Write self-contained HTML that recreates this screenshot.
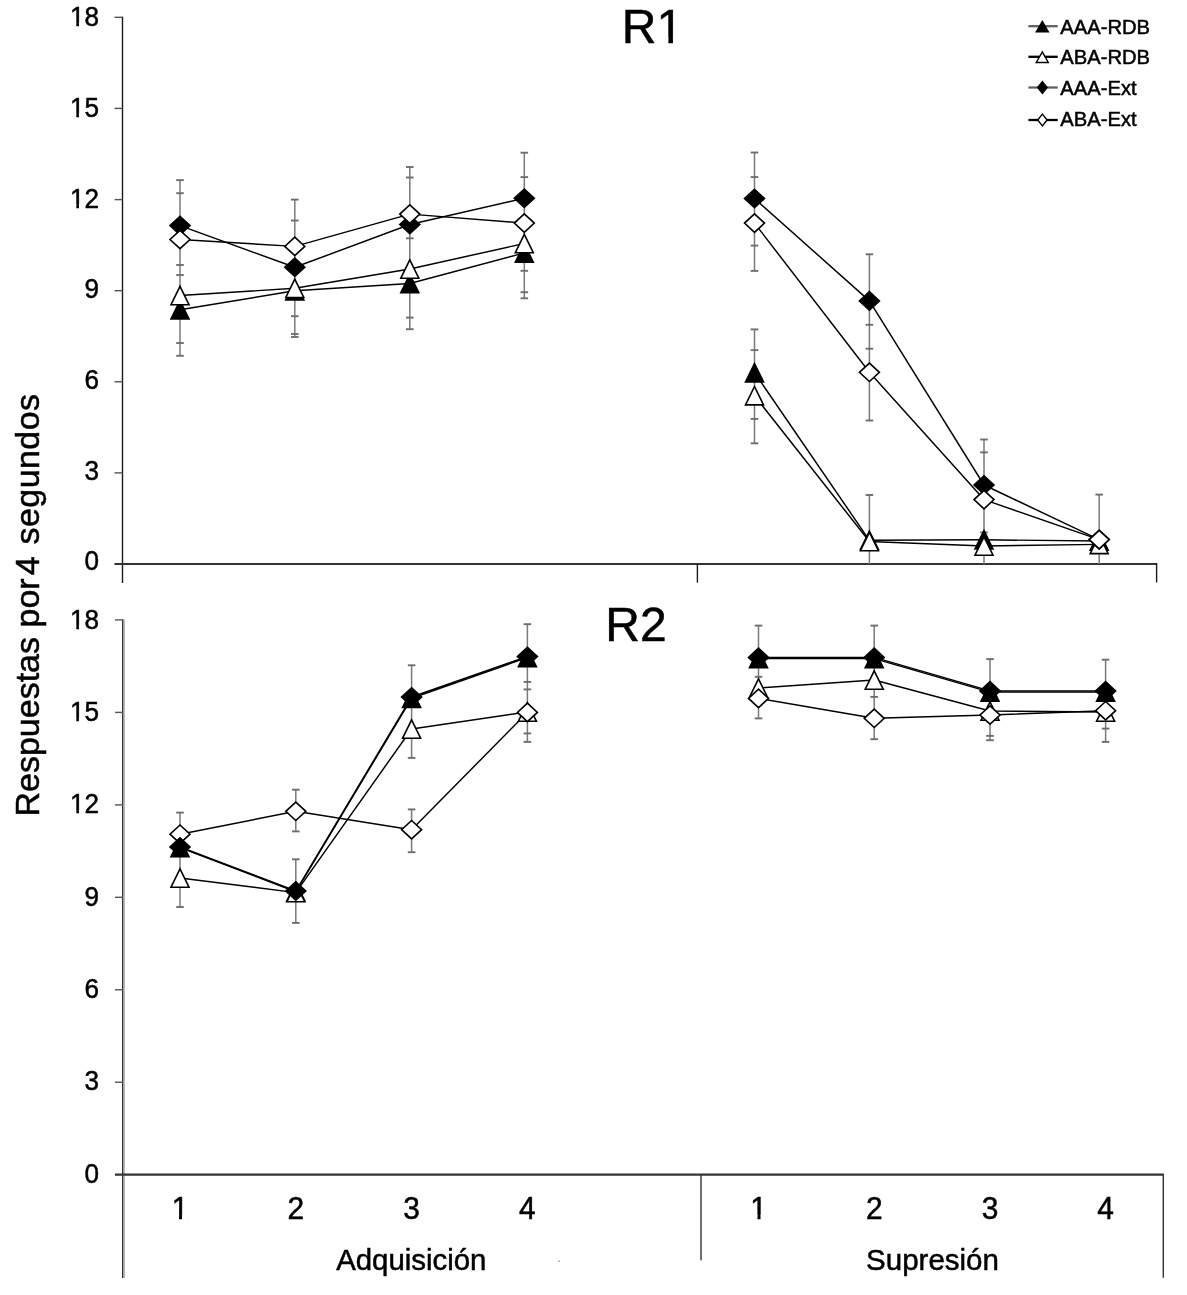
<!DOCTYPE html><html><head><meta charset="utf-8"><title>R1 R2</title><style>html,body{margin:0;padding:0;background:#fff;}svg{display:block;}</style></head><body>
<svg width="1187" height="1295" viewBox="0 0 1187 1295">
<rect width="1187" height="1295" fill="#fff"/>
<line x1="122.5" y1="16.7" x2="122.5" y2="583.0" stroke="#1a1a1a" stroke-width="1.4"/>
<text x="99" y="570.4" text-anchor="end" font-size="27.5" font-family="'Liberation Sans', Arial, sans-serif" stroke="#000" stroke-width="0.5" fill="#000" transform="translate(99 0) scale(0.95 1) translate(-99 0)" >0</text>
<line x1="114.5" y1="472.9" x2="122.5" y2="472.9" stroke="#555" stroke-width="1.4"/>
<text x="99" y="479.7" text-anchor="end" font-size="27.5" font-family="'Liberation Sans', Arial, sans-serif" stroke="#000" stroke-width="0.5" fill="#000" transform="translate(99 0) scale(0.95 1) translate(-99 0)" >3</text>
<line x1="114.5" y1="381.8" x2="122.5" y2="381.8" stroke="#555" stroke-width="1.4"/>
<text x="99" y="389.0" text-anchor="end" font-size="27.5" font-family="'Liberation Sans', Arial, sans-serif" stroke="#000" stroke-width="0.5" fill="#000" transform="translate(99 0) scale(0.95 1) translate(-99 0)" >6</text>
<line x1="114.5" y1="290.7" x2="122.5" y2="290.7" stroke="#555" stroke-width="1.4"/>
<text x="99" y="298.3" text-anchor="end" font-size="27.5" font-family="'Liberation Sans', Arial, sans-serif" stroke="#000" stroke-width="0.5" fill="#000" transform="translate(99 0) scale(0.95 1) translate(-99 0)" >9</text>
<line x1="114.5" y1="199.6" x2="122.5" y2="199.6" stroke="#555" stroke-width="1.4"/>
<text x="99" y="207.7" text-anchor="end" font-size="27.5" font-family="'Liberation Sans', Arial, sans-serif" stroke="#000" stroke-width="0.5" fill="#000" transform="translate(99 0) scale(0.95 1) translate(-99 0)" clip-path="url(#c0)">12</text>
<line x1="114.5" y1="108.4" x2="122.5" y2="108.4" stroke="#555" stroke-width="1.4"/>
<text x="99" y="117.0" text-anchor="end" font-size="27.5" font-family="'Liberation Sans', Arial, sans-serif" stroke="#000" stroke-width="0.5" fill="#000" transform="translate(99 0) scale(0.95 1) translate(-99 0)" clip-path="url(#c1)">15</text>
<line x1="114.5" y1="17.3" x2="122.5" y2="17.3" stroke="#555" stroke-width="1.4"/>
<text x="99" y="26.3" text-anchor="end" font-size="27.5" font-family="'Liberation Sans', Arial, sans-serif" stroke="#000" stroke-width="0.5" fill="#000" transform="translate(99 0) scale(0.95 1) translate(-99 0)" clip-path="url(#c2)">18</text>
<line x1="114.5" y1="564.0" x2="1156.6" y2="564.0" stroke="#333" stroke-width="2.2"/>
<line x1="697.4" y1="564.0" x2="697.4" y2="582.6" stroke="#1a1a1a" stroke-width="1.4"/>
<line x1="1156.6" y1="563.0" x2="1156.6" y2="582.5" stroke="#1a1a1a" stroke-width="1.4"/>
<text x="652.5" y="42.5" text-anchor="middle" font-size="48" font-family="'Liberation Sans', Arial, sans-serif" stroke="#000" stroke-width="0.5" fill="#000" clip-path="url(#c3)">R1</text>
<line x1="180.0" y1="180.1" x2="180.0" y2="355.8" stroke="#7a7a7a" stroke-width="1.5"/>
<line x1="176.2" y1="180.1" x2="183.8" y2="180.1" stroke="#6e6e6e" stroke-width="1.9"/>
<line x1="176.2" y1="193.2" x2="183.8" y2="193.2" stroke="#6e6e6e" stroke-width="1.9"/>
<line x1="176.2" y1="265.0" x2="183.8" y2="265.0" stroke="#6e6e6e" stroke-width="1.9"/>
<line x1="176.2" y1="275.0" x2="183.8" y2="275.0" stroke="#6e6e6e" stroke-width="1.9"/>
<line x1="176.2" y1="343.0" x2="183.8" y2="343.0" stroke="#6e6e6e" stroke-width="1.9"/>
<line x1="176.2" y1="355.8" x2="183.8" y2="355.8" stroke="#6e6e6e" stroke-width="1.9"/>
<line x1="294.8" y1="199.6" x2="294.8" y2="337.0" stroke="#7a7a7a" stroke-width="1.5"/>
<line x1="291.0" y1="199.6" x2="298.6" y2="199.6" stroke="#6e6e6e" stroke-width="1.9"/>
<line x1="291.0" y1="220.5" x2="298.6" y2="220.5" stroke="#6e6e6e" stroke-width="1.9"/>
<line x1="291.0" y1="316.2" x2="298.6" y2="316.2" stroke="#6e6e6e" stroke-width="1.9"/>
<line x1="291.0" y1="334.0" x2="298.6" y2="334.0" stroke="#6e6e6e" stroke-width="1.9"/>
<line x1="291.0" y1="337.0" x2="298.6" y2="337.0" stroke="#6e6e6e" stroke-width="1.9"/>
<line x1="409.8" y1="167.0" x2="409.8" y2="329.2" stroke="#7a7a7a" stroke-width="1.5"/>
<line x1="406.0" y1="167.0" x2="413.6" y2="167.0" stroke="#6e6e6e" stroke-width="1.9"/>
<line x1="406.0" y1="177.5" x2="413.6" y2="177.5" stroke="#6e6e6e" stroke-width="1.9"/>
<line x1="406.0" y1="238.3" x2="413.6" y2="238.3" stroke="#6e6e6e" stroke-width="1.9"/>
<line x1="406.0" y1="317.6" x2="413.6" y2="317.6" stroke="#6e6e6e" stroke-width="1.9"/>
<line x1="406.0" y1="329.2" x2="413.6" y2="329.2" stroke="#6e6e6e" stroke-width="1.9"/>
<line x1="524.3" y1="152.7" x2="524.3" y2="298.3" stroke="#7a7a7a" stroke-width="1.5"/>
<line x1="520.5" y1="152.7" x2="528.0999999999999" y2="152.7" stroke="#6e6e6e" stroke-width="1.9"/>
<line x1="520.5" y1="177.1" x2="528.0999999999999" y2="177.1" stroke="#6e6e6e" stroke-width="1.9"/>
<line x1="520.5" y1="270.8" x2="528.0999999999999" y2="270.8" stroke="#6e6e6e" stroke-width="1.9"/>
<line x1="520.5" y1="292.2" x2="528.0999999999999" y2="292.2" stroke="#6e6e6e" stroke-width="1.9"/>
<line x1="520.5" y1="298.3" x2="528.0999999999999" y2="298.3" stroke="#6e6e6e" stroke-width="1.9"/>
<line x1="754.5" y1="152.5" x2="754.5" y2="270.9" stroke="#7a7a7a" stroke-width="1.5"/>
<line x1="754.5" y1="329.4" x2="754.5" y2="443.3" stroke="#7a7a7a" stroke-width="1.5"/>
<line x1="750.7" y1="152.5" x2="758.3" y2="152.5" stroke="#6e6e6e" stroke-width="1.9"/>
<line x1="750.7" y1="177.1" x2="758.3" y2="177.1" stroke="#6e6e6e" stroke-width="1.9"/>
<line x1="750.7" y1="245.6" x2="758.3" y2="245.6" stroke="#6e6e6e" stroke-width="1.9"/>
<line x1="750.7" y1="270.9" x2="758.3" y2="270.9" stroke="#6e6e6e" stroke-width="1.9"/>
<line x1="750.7" y1="329.4" x2="758.3" y2="329.4" stroke="#6e6e6e" stroke-width="1.9"/>
<line x1="750.7" y1="350.1" x2="758.3" y2="350.1" stroke="#6e6e6e" stroke-width="1.9"/>
<line x1="750.7" y1="418.9" x2="758.3" y2="418.9" stroke="#6e6e6e" stroke-width="1.9"/>
<line x1="750.7" y1="443.3" x2="758.3" y2="443.3" stroke="#6e6e6e" stroke-width="1.9"/>
<line x1="869.4" y1="254.3" x2="869.4" y2="420.5" stroke="#7a7a7a" stroke-width="1.5"/>
<line x1="869.4" y1="495.0" x2="869.4" y2="564.0" stroke="#7a7a7a" stroke-width="1.5"/>
<line x1="865.6" y1="254.3" x2="873.1999999999999" y2="254.3" stroke="#6e6e6e" stroke-width="1.9"/>
<line x1="865.6" y1="324.8" x2="873.1999999999999" y2="324.8" stroke="#6e6e6e" stroke-width="1.9"/>
<line x1="865.6" y1="348.7" x2="873.1999999999999" y2="348.7" stroke="#6e6e6e" stroke-width="1.9"/>
<line x1="865.6" y1="420.5" x2="873.1999999999999" y2="420.5" stroke="#6e6e6e" stroke-width="1.9"/>
<line x1="865.6" y1="495.0" x2="873.1999999999999" y2="495.0" stroke="#6e6e6e" stroke-width="1.9"/>
<line x1="984.0" y1="439.5" x2="984.0" y2="564.0" stroke="#7a7a7a" stroke-width="1.5"/>
<line x1="980.2" y1="439.5" x2="987.8" y2="439.5" stroke="#6e6e6e" stroke-width="1.9"/>
<line x1="980.2" y1="452.4" x2="987.8" y2="452.4" stroke="#6e6e6e" stroke-width="1.9"/>
<line x1="980.2" y1="532.4" x2="987.8" y2="532.4" stroke="#6e6e6e" stroke-width="1.9"/>
<line x1="1099.2" y1="494.6" x2="1099.2" y2="564.0" stroke="#7a7a7a" stroke-width="1.5"/>
<line x1="1095.4" y1="494.6" x2="1103.0" y2="494.6" stroke="#6e6e6e" stroke-width="1.9"/>
<polyline points="180.0,309.8 294.8,290.8 409.8,283.5 524.3,253.0" fill="none" stroke="#000" stroke-width="1.45" stroke-linejoin="round"/>
<polyline points="754.5,372.7 869.4,540.3 984.0,539.8 1099.2,541.0" fill="none" stroke="#000" stroke-width="1.45" stroke-linejoin="round"/>
<polyline points="180.0,295.5 294.8,288.3 409.8,269.0 524.3,243.5" fill="none" stroke="#000" stroke-width="1.45" stroke-linejoin="round"/>
<polyline points="754.5,395.7 869.4,541.5 984.0,546.0 1099.2,544.4" fill="none" stroke="#000" stroke-width="1.45" stroke-linejoin="round"/>
<polyline points="180.0,225.6 294.8,267.3 409.8,224.5 524.3,198.3" fill="none" stroke="#000" stroke-width="1.45" stroke-linejoin="round"/>
<polyline points="754.5,198.5 869.4,300.9 984.0,485.0 1099.2,539.6" fill="none" stroke="#000" stroke-width="1.45" stroke-linejoin="round"/>
<polyline points="180.0,239.5 294.8,246.4 409.8,214.1 524.3,223.1" fill="none" stroke="#000" stroke-width="1.45" stroke-linejoin="round"/>
<polyline points="754.5,223.1 869.4,372.3 984.0,499.6 1099.2,539.6" fill="none" stroke="#000" stroke-width="1.45" stroke-linejoin="round"/>
<polygon points="180.0,300.6 189.0,319.0 171.0,319.0" fill="#000" stroke="#000" stroke-width="1.6" stroke-linejoin="miter"/>
<polygon points="180.0,286.3 189.0,304.7 171.0,304.7" fill="#fff" stroke="#000" stroke-width="1.6" stroke-linejoin="miter"/>
<polygon points="180.0,216.4 190.0,225.6 180.0,234.8 170.0,225.6" fill="#000" stroke="#000" stroke-width="1.6"/>
<polygon points="180.0,230.3 190.0,239.5 180.0,248.7 170.0,239.5" fill="#fff" stroke="#000" stroke-width="1.6"/>
<polygon points="294.8,281.6 303.8,300.0 285.8,300.0" fill="#000" stroke="#000" stroke-width="1.6" stroke-linejoin="miter"/>
<polygon points="294.8,279.1 303.8,297.5 285.8,297.5" fill="#fff" stroke="#000" stroke-width="1.6" stroke-linejoin="miter"/>
<polygon points="294.8,258.1 304.8,267.3 294.8,276.5 284.8,267.3" fill="#000" stroke="#000" stroke-width="1.6"/>
<polygon points="294.8,237.2 304.8,246.4 294.8,255.6 284.8,246.4" fill="#fff" stroke="#000" stroke-width="1.6"/>
<polygon points="409.8,274.3 418.8,292.7 400.8,292.7" fill="#000" stroke="#000" stroke-width="1.6" stroke-linejoin="miter"/>
<polygon points="409.8,259.8 418.8,278.2 400.8,278.2" fill="#fff" stroke="#000" stroke-width="1.6" stroke-linejoin="miter"/>
<polygon points="409.8,215.3 419.8,224.5 409.8,233.7 399.8,224.5" fill="#000" stroke="#000" stroke-width="1.6"/>
<polygon points="409.8,204.9 419.8,214.1 409.8,223.3 399.8,214.1" fill="#fff" stroke="#000" stroke-width="1.6"/>
<polygon points="524.3,243.8 533.3,262.2 515.3,262.2" fill="#000" stroke="#000" stroke-width="1.6" stroke-linejoin="miter"/>
<polygon points="524.3,234.3 533.3,252.7 515.3,252.7" fill="#fff" stroke="#000" stroke-width="1.6" stroke-linejoin="miter"/>
<polygon points="524.3,189.1 534.3,198.3 524.3,207.5 514.3,198.3" fill="#000" stroke="#000" stroke-width="1.6"/>
<polygon points="524.3,213.9 534.3,223.1 524.3,232.3 514.3,223.1" fill="#fff" stroke="#000" stroke-width="1.6"/>
<polygon points="754.5,363.5 763.5,381.9 745.5,381.9" fill="#000" stroke="#000" stroke-width="1.6" stroke-linejoin="miter"/>
<polygon points="754.5,386.5 763.5,404.9 745.5,404.9" fill="#fff" stroke="#000" stroke-width="1.6" stroke-linejoin="miter"/>
<polygon points="754.5,189.3 764.5,198.5 754.5,207.7 744.5,198.5" fill="#000" stroke="#000" stroke-width="1.6"/>
<polygon points="754.5,213.9 764.5,223.1 754.5,232.3 744.5,223.1" fill="#fff" stroke="#000" stroke-width="1.6"/>
<polygon points="869.4,531.1 878.4,549.5 860.4,549.5" fill="#000" stroke="#000" stroke-width="1.6" stroke-linejoin="miter"/>
<polygon points="869.4,532.3 878.4,550.7 860.4,550.7" fill="#fff" stroke="#000" stroke-width="1.6" stroke-linejoin="miter"/>
<polygon points="869.4,291.7 879.4,300.9 869.4,310.1 859.4,300.9" fill="#000" stroke="#000" stroke-width="1.6"/>
<polygon points="869.4,363.1 879.4,372.3 869.4,381.5 859.4,372.3" fill="#fff" stroke="#000" stroke-width="1.6"/>
<polygon points="984.0,530.6 993.0,549.0 975.0,549.0" fill="#000" stroke="#000" stroke-width="1.6" stroke-linejoin="miter"/>
<polygon points="984.0,536.8 993.0,555.2 975.0,555.2" fill="#fff" stroke="#000" stroke-width="1.6" stroke-linejoin="miter"/>
<polygon points="984.0,475.8 994.0,485.0 984.0,494.2 974.0,485.0" fill="#000" stroke="#000" stroke-width="1.6"/>
<polygon points="984.0,490.4 994.0,499.6 984.0,508.8 974.0,499.6" fill="#fff" stroke="#000" stroke-width="1.6"/>
<polygon points="1099.2,531.8 1108.2,550.2 1090.2,550.2" fill="#000" stroke="#000" stroke-width="1.6" stroke-linejoin="miter"/>
<polygon points="1099.2,535.2 1108.2,553.6 1090.2,553.6" fill="#fff" stroke="#000" stroke-width="1.6" stroke-linejoin="miter"/>
<polygon points="1099.2,530.4 1109.2,539.6 1099.2,548.8 1089.2,539.6" fill="#000" stroke="#000" stroke-width="1.6"/>
<polygon points="1099.2,530.4 1109.2,539.6 1099.2,548.8 1089.2,539.6" fill="#fff" stroke="#000" stroke-width="1.6"/>
<line x1="124.3" y1="619.3" x2="124.3" y2="1278.0" stroke="#bbb" stroke-width="1.4"/>
<line x1="122.7" y1="619.3" x2="122.7" y2="1278.0" stroke="#2a2a2a" stroke-width="1.3"/>
<text x="99" y="1182.6" text-anchor="end" font-size="27.5" font-family="'Liberation Sans', Arial, sans-serif" stroke="#000" stroke-width="0.5" fill="#000" transform="translate(99 0) scale(0.95 1) translate(-99 0)" >0</text>
<line x1="115.0" y1="1082.2" x2="123.0" y2="1082.2" stroke="#555" stroke-width="1.4"/>
<text x="99" y="1090.3" text-anchor="end" font-size="27.5" font-family="'Liberation Sans', Arial, sans-serif" stroke="#000" stroke-width="0.5" fill="#000" transform="translate(99 0) scale(0.95 1) translate(-99 0)" >3</text>
<line x1="115.0" y1="989.8" x2="123.0" y2="989.8" stroke="#555" stroke-width="1.4"/>
<text x="99" y="998.1" text-anchor="end" font-size="27.5" font-family="'Liberation Sans', Arial, sans-serif" stroke="#000" stroke-width="0.5" fill="#000" transform="translate(99 0) scale(0.95 1) translate(-99 0)" >6</text>
<line x1="115.0" y1="897.3" x2="123.0" y2="897.3" stroke="#555" stroke-width="1.4"/>
<text x="99" y="905.8" text-anchor="end" font-size="27.5" font-family="'Liberation Sans', Arial, sans-serif" stroke="#000" stroke-width="0.5" fill="#000" transform="translate(99 0) scale(0.95 1) translate(-99 0)" >9</text>
<line x1="115.0" y1="804.9" x2="123.0" y2="804.9" stroke="#555" stroke-width="1.4"/>
<text x="99" y="813.5" text-anchor="end" font-size="27.5" font-family="'Liberation Sans', Arial, sans-serif" stroke="#000" stroke-width="0.5" fill="#000" transform="translate(99 0) scale(0.95 1) translate(-99 0)" clip-path="url(#c4)">12</text>
<line x1="115.0" y1="712.4" x2="123.0" y2="712.4" stroke="#555" stroke-width="1.4"/>
<text x="99" y="721.3" text-anchor="end" font-size="27.5" font-family="'Liberation Sans', Arial, sans-serif" stroke="#000" stroke-width="0.5" fill="#000" transform="translate(99 0) scale(0.95 1) translate(-99 0)" clip-path="url(#c5)">15</text>
<line x1="115.0" y1="619.9" x2="123.0" y2="619.9" stroke="#555" stroke-width="1.4"/>
<text x="99" y="629.0" text-anchor="end" font-size="27.5" font-family="'Liberation Sans', Arial, sans-serif" stroke="#000" stroke-width="0.5" fill="#000" transform="translate(99 0) scale(0.95 1) translate(-99 0)" clip-path="url(#c6)">18</text>
<line x1="115.0" y1="1174.7" x2="1163.3" y2="1174.7" stroke="#333" stroke-width="2.2"/>
<line x1="701.0" y1="1174.7" x2="701.0" y2="1260.2" stroke="#333" stroke-width="1.4"/>
<line x1="1163.3" y1="1173.7" x2="1163.3" y2="1277.7" stroke="#333" stroke-width="1.4"/>
<text x="636.0" y="641.0" text-anchor="middle" font-size="48" font-family="'Liberation Sans', Arial, sans-serif" stroke="#000" stroke-width="0.5" fill="#000" >R2</text>
<line x1="180.0" y1="812.6" x2="180.0" y2="907.0" stroke="#7a7a7a" stroke-width="1.5"/>
<line x1="176.2" y1="812.6" x2="183.8" y2="812.6" stroke="#6e6e6e" stroke-width="1.9"/>
<line x1="176.2" y1="907.0" x2="183.8" y2="907.0" stroke="#6e6e6e" stroke-width="1.9"/>
<line x1="295.8" y1="789.7" x2="295.8" y2="831.4" stroke="#7a7a7a" stroke-width="1.5"/>
<line x1="295.8" y1="859.3" x2="295.8" y2="922.9" stroke="#7a7a7a" stroke-width="1.5"/>
<line x1="292.0" y1="789.7" x2="299.6" y2="789.7" stroke="#6e6e6e" stroke-width="1.9"/>
<line x1="292.0" y1="831.4" x2="299.6" y2="831.4" stroke="#6e6e6e" stroke-width="1.9"/>
<line x1="292.0" y1="859.3" x2="299.6" y2="859.3" stroke="#6e6e6e" stroke-width="1.9"/>
<line x1="292.0" y1="922.9" x2="299.6" y2="922.9" stroke="#6e6e6e" stroke-width="1.9"/>
<line x1="411.6" y1="665.3" x2="411.6" y2="757.9" stroke="#7a7a7a" stroke-width="1.5"/>
<line x1="411.6" y1="809.4" x2="411.6" y2="852.2" stroke="#7a7a7a" stroke-width="1.5"/>
<line x1="407.8" y1="665.3" x2="415.40000000000003" y2="665.3" stroke="#6e6e6e" stroke-width="1.9"/>
<line x1="407.8" y1="757.9" x2="415.40000000000003" y2="757.9" stroke="#6e6e6e" stroke-width="1.9"/>
<line x1="407.8" y1="809.4" x2="415.40000000000003" y2="809.4" stroke="#6e6e6e" stroke-width="1.9"/>
<line x1="407.8" y1="852.2" x2="415.40000000000003" y2="852.2" stroke="#6e6e6e" stroke-width="1.9"/>
<line x1="527.4" y1="624.2" x2="527.4" y2="741.9" stroke="#7a7a7a" stroke-width="1.5"/>
<line x1="523.6" y1="624.2" x2="531.1999999999999" y2="624.2" stroke="#6e6e6e" stroke-width="1.9"/>
<line x1="523.6" y1="681.9" x2="531.1999999999999" y2="681.9" stroke="#6e6e6e" stroke-width="1.9"/>
<line x1="523.6" y1="689.4" x2="531.1999999999999" y2="689.4" stroke="#6e6e6e" stroke-width="1.9"/>
<line x1="523.6" y1="733.4" x2="531.1999999999999" y2="733.4" stroke="#6e6e6e" stroke-width="1.9"/>
<line x1="523.6" y1="741.9" x2="531.1999999999999" y2="741.9" stroke="#6e6e6e" stroke-width="1.9"/>
<line x1="758.5" y1="625.6" x2="758.5" y2="718.4" stroke="#7a7a7a" stroke-width="1.5"/>
<line x1="754.7" y1="625.6" x2="762.3" y2="625.6" stroke="#6e6e6e" stroke-width="1.9"/>
<line x1="754.7" y1="676.8" x2="762.3" y2="676.8" stroke="#6e6e6e" stroke-width="1.9"/>
<line x1="754.7" y1="718.4" x2="762.3" y2="718.4" stroke="#6e6e6e" stroke-width="1.9"/>
<line x1="874.2" y1="625.6" x2="874.2" y2="739.2" stroke="#7a7a7a" stroke-width="1.5"/>
<line x1="870.4000000000001" y1="625.6" x2="878.0" y2="625.6" stroke="#6e6e6e" stroke-width="1.9"/>
<line x1="870.4000000000001" y1="696.9" x2="878.0" y2="696.9" stroke="#6e6e6e" stroke-width="1.9"/>
<line x1="870.4000000000001" y1="739.2" x2="878.0" y2="739.2" stroke="#6e6e6e" stroke-width="1.9"/>
<line x1="990.0" y1="659.1" x2="990.0" y2="740.2" stroke="#7a7a7a" stroke-width="1.5"/>
<line x1="986.2" y1="659.1" x2="993.8" y2="659.1" stroke="#6e6e6e" stroke-width="1.9"/>
<line x1="986.2" y1="735.9" x2="993.8" y2="735.9" stroke="#6e6e6e" stroke-width="1.9"/>
<line x1="986.2" y1="740.2" x2="993.8" y2="740.2" stroke="#6e6e6e" stroke-width="1.9"/>
<line x1="1105.6" y1="659.7" x2="1105.6" y2="741.9" stroke="#7a7a7a" stroke-width="1.5"/>
<line x1="1101.8" y1="659.7" x2="1109.3999999999999" y2="659.7" stroke="#6e6e6e" stroke-width="1.9"/>
<line x1="1101.8" y1="728.6" x2="1109.3999999999999" y2="728.6" stroke="#6e6e6e" stroke-width="1.9"/>
<line x1="1101.8" y1="741.9" x2="1109.3999999999999" y2="741.9" stroke="#6e6e6e" stroke-width="1.9"/>
<polyline points="180.0,847.5 295.8,891.8 411.6,698.3 527.4,657.5" fill="none" stroke="#000" stroke-width="1.45" stroke-linejoin="round"/>
<polyline points="758.5,658.6 874.2,658.6 990.0,692.1 1105.6,692.1" fill="none" stroke="#000" stroke-width="1.45" stroke-linejoin="round"/>
<polyline points="180.0,878.0 295.8,892.6 411.6,729.0 527.4,712.0" fill="none" stroke="#000" stroke-width="1.45" stroke-linejoin="round"/>
<polyline points="758.5,688.0 874.2,680.0 990.0,711.0 1105.6,712.0" fill="none" stroke="#000" stroke-width="1.45" stroke-linejoin="round"/>
<polyline points="180.0,847.0 295.8,891.0 411.6,697.0 527.4,656.5" fill="none" stroke="#000" stroke-width="1.45" stroke-linejoin="round"/>
<polyline points="758.5,657.4 874.2,657.4 990.0,690.9 1105.6,690.9" fill="none" stroke="#000" stroke-width="1.45" stroke-linejoin="round"/>
<polyline points="180.0,834.2 295.8,811.3 411.6,829.7 527.4,712.4" fill="none" stroke="#000" stroke-width="1.45" stroke-linejoin="round"/>
<polyline points="758.5,698.4 874.2,718.3 990.0,715.0 1105.6,710.7" fill="none" stroke="#000" stroke-width="1.45" stroke-linejoin="round"/>
<polygon points="180.0,838.3 189.0,856.7 171.0,856.7" fill="#000" stroke="#000" stroke-width="1.6" stroke-linejoin="miter"/>
<polygon points="180.0,868.8 189.0,887.2 171.0,887.2" fill="#fff" stroke="#000" stroke-width="1.6" stroke-linejoin="miter"/>
<polygon points="180.0,825.0 190.0,834.2 180.0,843.4 170.0,834.2" fill="#fff" stroke="#000" stroke-width="1.6"/>
<polygon points="180.0,837.8 190.0,847.0 180.0,856.2 170.0,847.0" fill="#000" stroke="#000" stroke-width="1.6"/>
<polygon points="295.8,882.6 304.8,901.0 286.8,901.0" fill="#000" stroke="#000" stroke-width="1.6" stroke-linejoin="miter"/>
<polygon points="295.8,883.4 304.8,901.8 286.8,901.8" fill="#fff" stroke="#000" stroke-width="1.6" stroke-linejoin="miter"/>
<polygon points="295.8,802.1 305.8,811.3 295.8,820.5 285.8,811.3" fill="#fff" stroke="#000" stroke-width="1.6"/>
<polygon points="295.8,881.8 305.8,891.0 295.8,900.2 285.8,891.0" fill="#000" stroke="#000" stroke-width="1.6"/>
<polygon points="411.6,689.1 420.6,707.5 402.6,707.5" fill="#000" stroke="#000" stroke-width="1.6" stroke-linejoin="miter"/>
<polygon points="411.6,719.8 420.6,738.2 402.6,738.2" fill="#fff" stroke="#000" stroke-width="1.6" stroke-linejoin="miter"/>
<polygon points="411.6,820.5 421.6,829.7 411.6,838.9 401.6,829.7" fill="#fff" stroke="#000" stroke-width="1.6"/>
<polygon points="411.6,687.8 421.6,697.0 411.6,706.2 401.6,697.0" fill="#000" stroke="#000" stroke-width="1.6"/>
<polygon points="527.4,648.3 536.4,666.7 518.4,666.7" fill="#000" stroke="#000" stroke-width="1.6" stroke-linejoin="miter"/>
<polygon points="527.4,702.8 536.4,721.2 518.4,721.2" fill="#fff" stroke="#000" stroke-width="1.6" stroke-linejoin="miter"/>
<polygon points="527.4,703.2 537.4,712.4 527.4,721.6 517.4,712.4" fill="#fff" stroke="#000" stroke-width="1.6"/>
<polygon points="527.4,647.3 537.4,656.5 527.4,665.7 517.4,656.5" fill="#000" stroke="#000" stroke-width="1.6"/>
<polygon points="758.5,649.4 767.5,667.8 749.5,667.8" fill="#000" stroke="#000" stroke-width="1.6" stroke-linejoin="miter"/>
<polygon points="758.5,678.8 767.5,697.2 749.5,697.2" fill="#fff" stroke="#000" stroke-width="1.6" stroke-linejoin="miter"/>
<polygon points="758.5,689.2 768.5,698.4 758.5,707.6 748.5,698.4" fill="#fff" stroke="#000" stroke-width="1.6"/>
<polygon points="758.5,648.2 768.5,657.4 758.5,666.6 748.5,657.4" fill="#000" stroke="#000" stroke-width="1.6"/>
<polygon points="874.2,649.4 883.2,667.8 865.2,667.8" fill="#000" stroke="#000" stroke-width="1.6" stroke-linejoin="miter"/>
<polygon points="874.2,670.8 883.2,689.2 865.2,689.2" fill="#fff" stroke="#000" stroke-width="1.6" stroke-linejoin="miter"/>
<polygon points="874.2,709.1 884.2,718.3 874.2,727.5 864.2,718.3" fill="#fff" stroke="#000" stroke-width="1.6"/>
<polygon points="874.2,648.2 884.2,657.4 874.2,666.6 864.2,657.4" fill="#000" stroke="#000" stroke-width="1.6"/>
<polygon points="990.0,682.9 999.0,701.3 981.0,701.3" fill="#000" stroke="#000" stroke-width="1.6" stroke-linejoin="miter"/>
<polygon points="990.0,701.8 999.0,720.2 981.0,720.2" fill="#fff" stroke="#000" stroke-width="1.6" stroke-linejoin="miter"/>
<polygon points="990.0,705.8 1000.0,715.0 990.0,724.2 980.0,715.0" fill="#fff" stroke="#000" stroke-width="1.6"/>
<polygon points="990.0,681.7 1000.0,690.9 990.0,700.1 980.0,690.9" fill="#000" stroke="#000" stroke-width="1.6"/>
<polygon points="1105.6,682.9 1114.6,701.3 1096.6,701.3" fill="#000" stroke="#000" stroke-width="1.6" stroke-linejoin="miter"/>
<polygon points="1105.6,702.8 1114.6,721.2 1096.6,721.2" fill="#fff" stroke="#000" stroke-width="1.6" stroke-linejoin="miter"/>
<polygon points="1105.6,701.5 1115.6,710.7 1105.6,719.9 1095.6,710.7" fill="#fff" stroke="#000" stroke-width="1.6"/>
<polygon points="1105.6,681.7 1115.6,690.9 1105.6,700.1 1095.6,690.9" fill="#000" stroke="#000" stroke-width="1.6"/>
<text x="0" y="0" text-anchor="middle" font-size="31.5" font-family="'Liberation Sans', Arial, sans-serif" stroke="#000" stroke-width="0.5" fill="#000" transform="translate(180.0 1218.6) scale(0.95 1)" clip-path="url(#c7)">1</text>
<text x="0" y="0" text-anchor="middle" font-size="31.5" font-family="'Liberation Sans', Arial, sans-serif" stroke="#000" stroke-width="0.5" fill="#000" transform="translate(295.8 1218.6) scale(0.95 1)" >2</text>
<text x="0" y="0" text-anchor="middle" font-size="31.5" font-family="'Liberation Sans', Arial, sans-serif" stroke="#000" stroke-width="0.5" fill="#000" transform="translate(411.6 1218.6) scale(0.95 1)" >3</text>
<text x="0" y="0" text-anchor="middle" font-size="31.5" font-family="'Liberation Sans', Arial, sans-serif" stroke="#000" stroke-width="0.5" fill="#000" transform="translate(527.4 1218.6) scale(0.95 1)" >4</text>
<text x="0" y="0" text-anchor="middle" font-size="31.5" font-family="'Liberation Sans', Arial, sans-serif" stroke="#000" stroke-width="0.5" fill="#000" transform="translate(758.5 1218.6) scale(0.95 1)" clip-path="url(#c8)">1</text>
<text x="0" y="0" text-anchor="middle" font-size="31.5" font-family="'Liberation Sans', Arial, sans-serif" stroke="#000" stroke-width="0.5" fill="#000" transform="translate(874.2 1218.6) scale(0.95 1)" >2</text>
<text x="0" y="0" text-anchor="middle" font-size="31.5" font-family="'Liberation Sans', Arial, sans-serif" stroke="#000" stroke-width="0.5" fill="#000" transform="translate(990.0 1218.6) scale(0.95 1)" >3</text>
<text x="0" y="0" text-anchor="middle" font-size="31.5" font-family="'Liberation Sans', Arial, sans-serif" stroke="#000" stroke-width="0.5" fill="#000" transform="translate(1105.6 1218.6) scale(0.95 1)" >4</text>
<text x="411.3" y="1270" text-anchor="middle" font-size="29.4" font-family="'Liberation Sans', Arial, sans-serif" stroke="#000" stroke-width="0.5" fill="#000">Adquisición</text>
<text x="932.5" y="1270.4" text-anchor="middle" font-size="29.5" font-family="'Liberation Sans', Arial, sans-serif" stroke="#000" stroke-width="0.5" fill="#000">Supresión</text>
<text x="0" y="0" text-anchor="middle" font-size="34" font-family="'Liberation Sans', Arial, sans-serif" stroke="#000" stroke-width="0.5" fill="#000" transform="translate(39.4 605) rotate(-90)">Respuestas por<tspan dx="-6.3"> 4</tspan><tspan dx="1.9" letter-spacing="0.45"> segundos</tspan></text>
<line x1="1028.4" y1="26.2" x2="1057.7" y2="26.2" stroke="#606060" stroke-width="2.3"/>
<polygon points="1042.3,21.3 1048.3,31.9 1036.3,31.9" fill="#000" stroke="#000" stroke-width="1.4"/>
<text x="1060.3" y="33.6" font-size="20.2" font-family="'Liberation Sans', Arial, sans-serif" stroke="#000" stroke-width="0.5" fill="#000">AAA-RDB</text>
<line x1="1028.4" y1="56.8" x2="1057.7" y2="56.8" stroke="#000" stroke-width="2.3"/>
<polygon points="1042.3,51.9 1048.3,62.5 1036.3,62.5" fill="#fff" stroke="#000" stroke-width="1.4"/>
<text x="1060.3" y="63.6" font-size="20.2" font-family="'Liberation Sans', Arial, sans-serif" stroke="#000" stroke-width="0.5" fill="#000">ABA-RDB</text>
<line x1="1028.4" y1="87.5" x2="1057.7" y2="87.5" stroke="#606060" stroke-width="2.3"/>
<polygon points="1042.4,81.6 1047.1,87.5 1042.4,93.4 1037.7,87.5" fill="#000" stroke="#000" stroke-width="1.4"/>
<text x="1060.3" y="94.6" font-size="20.2" font-family="'Liberation Sans', Arial, sans-serif" stroke="#000" stroke-width="0.5" fill="#000">AAA-Ext</text>
<line x1="1028.4" y1="120.0" x2="1057.7" y2="120.0" stroke="#000" stroke-width="2.3"/>
<polygon points="1042.4,114.1 1047.1,120.0 1042.4,125.9 1037.7,120.0" fill="#fff" stroke="#000" stroke-width="1.4"/>
<text x="1060.3" y="126.3" font-size="20.2" font-family="'Liberation Sans', Arial, sans-serif" stroke="#000" stroke-width="0.5" fill="#000">ABA-Ext</text>
<rect x="558.3" y="1260.5" width="1.6" height="1.4" fill="#999"/>
<defs><clipPath id="c0" clipPathUnits="userSpaceOnUse"><path d="M-5000,-5000H5000V5000H-5000Z M69.51,204.25H75.18V209.70H69.51Z M77.91,204.25H83.36V209.70H77.91Z" clip-rule="evenodd"/></clipPath><clipPath id="c1" clipPathUnits="userSpaceOnUse"><path d="M-5000,-5000H5000V5000H-5000Z M69.51,113.55H75.18V119.00H69.51Z M77.91,113.55H83.36V119.00H77.91Z" clip-rule="evenodd"/></clipPath><clipPath id="c2" clipPathUnits="userSpaceOnUse"><path d="M-5000,-5000H5000V5000H-5000Z M69.51,22.85H75.18V28.30H69.51Z M77.91,22.85H83.36V28.30H77.91Z" clip-rule="evenodd"/></clipPath><clipPath id="c3" clipPathUnits="userSpaceOnUse"><path d="M-5000,-5000H5000V5000H-5000Z M659.14,37.51H668.40V44.50H659.14Z M672.95,37.51H681.84V44.50H672.95Z" clip-rule="evenodd"/></clipPath><clipPath id="c4" clipPathUnits="userSpaceOnUse"><path d="M-5000,-5000H5000V5000H-5000Z M69.51,810.05H75.18V815.50H69.51Z M77.91,810.05H83.36V815.50H77.91Z" clip-rule="evenodd"/></clipPath><clipPath id="c5" clipPathUnits="userSpaceOnUse"><path d="M-5000,-5000H5000V5000H-5000Z M69.51,717.85H75.18V723.30H69.51Z M77.91,717.85H83.36V723.30H77.91Z" clip-rule="evenodd"/></clipPath><clipPath id="c6" clipPathUnits="userSpaceOnUse"><path d="M-5000,-5000H5000V5000H-5000Z M69.51,625.55H75.18V631.00H69.51Z M77.91,625.55H83.36V631.00H77.91Z" clip-rule="evenodd"/></clipPath><clipPath id="c7" clipPathUnits="userSpaceOnUse"><path d="M-5000,-5000H5000V5000H-5000Z M-7.36,-3.75H-0.99V2.00H-7.36Z M2.10,-3.75H8.22V2.00H2.10Z" clip-rule="evenodd"/></clipPath><clipPath id="c8" clipPathUnits="userSpaceOnUse"><path d="M-5000,-5000H5000V5000H-5000Z M-7.36,-3.75H-0.99V2.00H-7.36Z M2.10,-3.75H8.22V2.00H2.10Z" clip-rule="evenodd"/></clipPath></defs>
</svg></body></html>
